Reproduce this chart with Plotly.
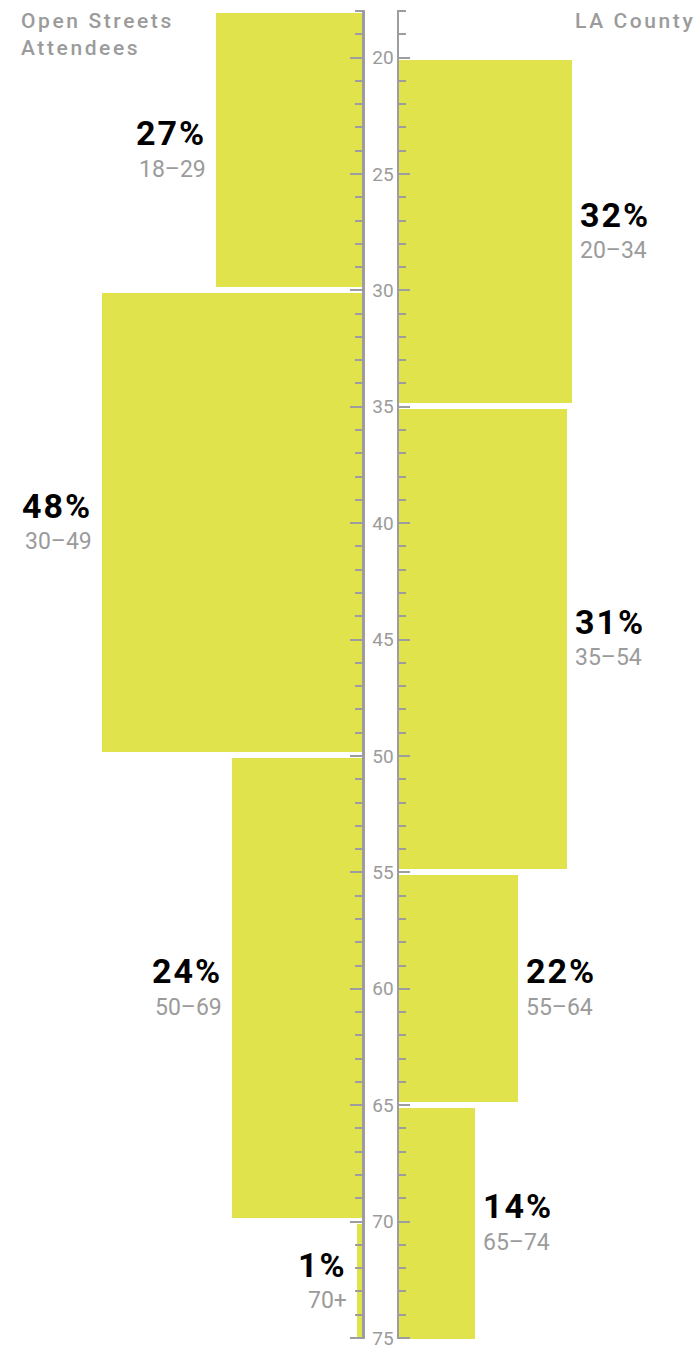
import plotly.graph_objects as go

# ---- data ----
left_start = [18, 30, 50, 70]
left_end = [30, 50, 70, 75]
left_pct = [27, 48, 24, 1]
left_labels = ["18–29", "30–49", "50–69", "70+"]

right_start = [20, 35, 55, 65]
right_end = [35, 55, 65, 75]
right_pct = [32, 31, 22, 14]
right_labels = ["20–34", "35–54", "55–64", "65–74"]

age_min, age_max = 18, 75
tick_vals = [20, 25, 30, 35, 40, 45, 50, 55, 60, 65, 70, 75]
tick_text = ["20", "25", "30", "35", "40", "45", "50", "55", "60", "65", "70", "75"]

left_title = "Open Streets<br>Attendees"
right_title = "LA County"

# ---- style ----
W, H = 696, 1346
YELLOW = "#e0e34b"
GRAY = "#9d9da1"
TXT_GRAY = "#9b9b9b"
FONT = "Roboto"
PX_PER_PCT = 5.42
LEFT_EDGE = 362
RIGHT_EDGE = 399
Y_TOP_PX, Y_BOT_PX = 11, 1338
PAD = 0.05  # small range padding so end ticks are drawn


def spans(starts, ends):
    c, w = [], []
    for s, e in zip(starts, ends):
        y0 = s + 0.1
        y1 = e - 0.15 if e < age_max else age_max + 0.05
        c.append((y0 + y1) / 2)
        w.append(y1 - y0)
    return c, w


lc, lw = spans(left_start, left_end)
rc, rw = spans(right_start, right_end)

fig = go.Figure()
fig.add_trace(go.Bar(orientation="h", x=left_pct, y=lc, width=lw, base=0,
                     marker=dict(color=YELLOW, line=dict(width=0)),
                     xaxis="x", yaxis="y", hoverinfo="skip", showlegend=False,
                     cliponaxis=False))
fig.add_trace(go.Bar(orientation="h", x=right_pct, y=rc, width=rw, base=0,
                     marker=dict(color=YELLOW, line=dict(width=0)),
                     xaxis="x2", yaxis="y2", hoverinfo="skip", showlegend=False,
                     cliponaxis=False))

ppu = (Y_BOT_PX - Y_TOP_PX) / (age_max - age_min)
ydom = [1 - (Y_BOT_PX + PAD * ppu) / H, 1 - (Y_TOP_PX - PAD * ppu) / H]
yrange = [age_max + PAD, age_min - PAD]
minor = dict(tickmode="linear", tick0=0, dtick=1, ticks="inside", ticklen=7,
             tickwidth=2, tickcolor=GRAY, showgrid=False)

fig.update_layout(
    width=W, height=H,
    margin=dict(l=0, r=0, t=0, b=0, autoexpand=False),
    paper_bgcolor="white", plot_bgcolor="white",
    bargap=0,
    xaxis=dict(domain=[0, LEFT_EDGE / W], range=[LEFT_EDGE / PX_PER_PCT, 0],
               visible=False, anchor="y", fixedrange=True, automargin=False),
    xaxis2=dict(domain=[RIGHT_EDGE / W, 1], range=[0, (W - RIGHT_EDGE) / PX_PER_PCT],
                visible=False, anchor="y2", fixedrange=True, automargin=False),
    yaxis=dict(domain=ydom, range=yrange, anchor="x", side="right",
               showline=True, linecolor=GRAY, linewidth=2.5,
               ticks="inside", ticklen=12, tickwidth=2, tickcolor=GRAY,
               tickmode="array", tickvals=tick_vals, ticktext=tick_text,
               tickfont=dict(family=FONT, size=19, color=TXT_GRAY),
               ticklabelstandoff=4, ticklabeloverflow="allow", automargin=False,
               showgrid=False, zeroline=False, minor=minor, layer="above traces",
               fixedrange=True),
    yaxis2=dict(domain=ydom, range=yrange, anchor="x2", side="left",
                matches="y", automargin=False,
                showline=True, linecolor=GRAY, linewidth=2.5,
                ticks="inside", ticklen=11, tickwidth=2, tickcolor=GRAY,
                tickmode="array", tickvals=tick_vals, showticklabels=False,
                showgrid=False, zeroline=False, minor=minor, layer="above traces",
                fixedrange=True),
)


def sp(t, ls):
    return f'<span style="letter-spacing:{ls}px">{t}</span>'


ann = []
for p, c, lab in zip(left_pct, lc, left_labels):
    ann.append(dict(x=p, y=c, xref="x", yref="y", text=f"<b>{sp(str(p) + '%', 2)}</b>",
                    showarrow=False, xanchor="right", yanchor="middle", xshift=-8, yshift=17,
                    font=dict(family=FONT, size=34, color="#000000")))
    ann.append(dict(x=p, y=c, xref="x", yref="y", text=lab, showarrow=False,
                    xanchor="right", yanchor="middle", xshift=-8, yshift=-19,
                    font=dict(family=FONT, size=23, color=TXT_GRAY)))
for p, c, lab in zip(right_pct, rc, right_labels):
    ann.append(dict(x=p, y=c, xref="x2", yref="y2", text=f"<b>{sp(str(p) + '%', 2)}</b>",
                    showarrow=False, xanchor="left", yanchor="middle", xshift=6, yshift=17,
                    font=dict(family=FONT, size=34, color="#000000")))
    ann.append(dict(x=p, y=c, xref="x2", yref="y2", text=lab, showarrow=False,
                    xanchor="left", yanchor="middle", xshift=6, yshift=-19,
                    font=dict(family=FONT, size=23, color=TXT_GRAY)))

ann.append(dict(x=19 / W, y=1 - 7 / H, xref="paper", yref="paper",
                text=sp(left_title, 2.6),
                showarrow=False, xanchor="left", yanchor="top", align="left",
                font=dict(family=FONT, size=21, color=TXT_GRAY, weight=500)))
ann.append(dict(x=1 + 1 / W, y=1 - 7 / H, xref="paper", yref="paper",
                text=sp(right_title, 2.6),
                showarrow=False, xanchor="right", yanchor="top", align="right",
                font=dict(family=FONT, size=21, color=TXT_GRAY, weight=500)))
fig.update_layout(annotations=ann)

fig.write_html(
    "out.html",
    config={"displayModeBar": False, "staticPlot": True},
    post_script=("document.body.style.margin='0';"
                 "document.body.style.overflow='hidden';"
                 "document.documentElement.style.overflow='hidden';"),
)
